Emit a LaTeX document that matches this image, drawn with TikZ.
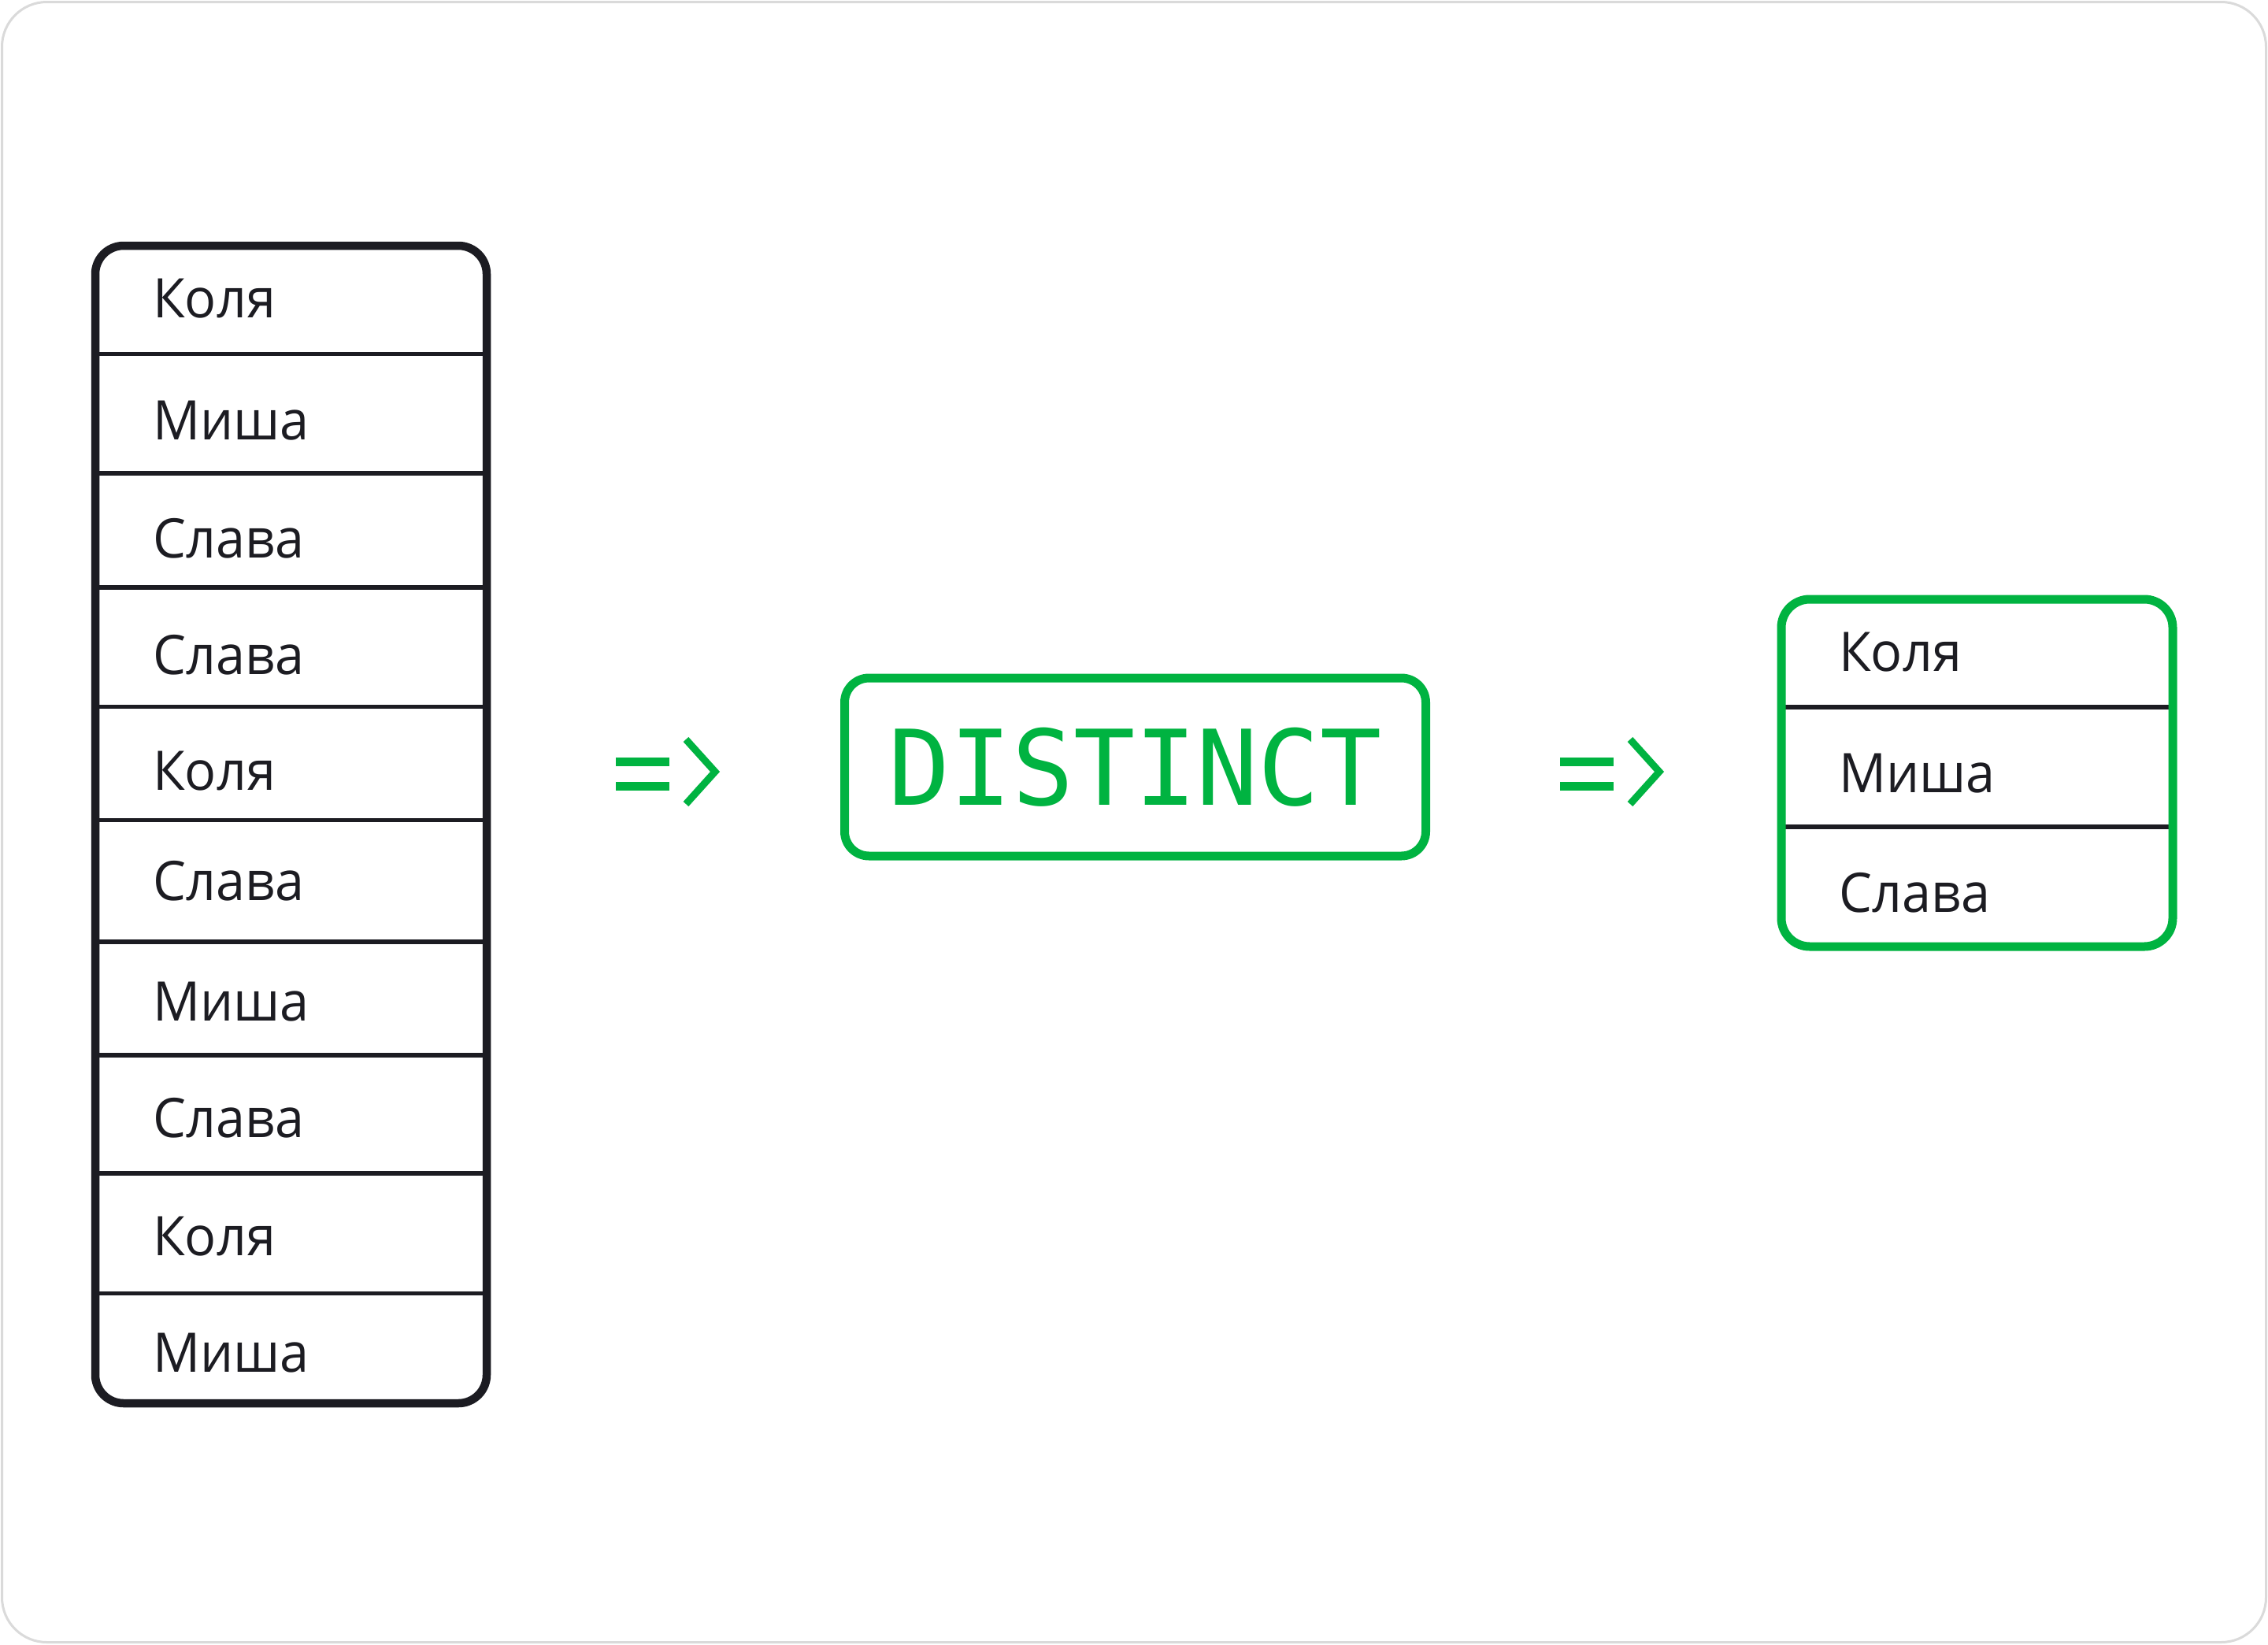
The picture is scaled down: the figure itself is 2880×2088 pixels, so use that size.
\documentclass[tikz,border=0pt]{standalone}
\usepackage{fontspec}
\newfontfamily\namefont[FakeStretch=0.96]{Open Sans}
\newfontfamily\codefont[FakeStretch=0.98]{DejaVu Sans Mono}
\definecolor{ink}{HTML}{1C1C22}
\definecolor{grn}{HTML}{00B341}
\definecolor{edgegray}{HTML}{DADADA}
\begin{document}
\begin{tikzpicture}[x=1pt,y=-1pt,
  namelabel/.style={anchor=base west, inner sep=0pt, text=ink, font=\namefont\fontsize{69.3}{80}\selectfont},
  rowsep/.style={draw=ink, line width=5.5pt},
  darkframe/.style={draw=ink, line width=10.5pt, rounded corners=36pt},
  greenframe/.style={draw=grn, line width=11pt, rounded corners=36pt},
  codebox/.style={draw=grn, line width=11pt, rounded corners=31pt, text=grn, inner sep=0pt,
    minimum width=738pt, minimum height=226pt, font=\codefont\fontsize{132.6}{150}\selectfont},
  bar/.style={fill=grn, draw=none},
  chevron/.style={draw=grn, line width=9pt, miter limit=10}
]
\useasboundingbox (0,0) rectangle (2880,2088);
\fill[white] (0,0) rectangle (2880,2088);
\draw[edgegray, line width=3pt, rounded corners=57pt] (2.5,2.5) rectangle (2877.5,2085.5);

% left table
\coordinate (ltl) at (121,312);
\coordinate (lbr) at (618,1782);
\foreach \yy in {449.3,601,746,897.7,1041.7,1196,1340,1490,1642.3}{
  \draw[rowsep] (121,\yy) -- (618,\yy);
}
\draw[darkframe] (ltl) rectangle (lbr);
\node[namelabel] (l1) at (194,403.3) {Коля};
\node[namelabel] (l2) at (194,558.3) {Миша};
\node[namelabel] (l3) at (194,708.3) {Слава};
\node[namelabel] (l4) at (194,856.7) {Слава};
\node[namelabel] (l5) at (194,1003.3) {Коля};
\node[namelabel] (l6) at (194,1143.3) {Слава};
\node[namelabel] (l7) at (194,1296) {Миша};
\node[namelabel] (l8) at (194,1444) {Слава};
\node[namelabel] (l9) at (194,1594.3) {Коля};
\node[namelabel] (l10) at (194,1742.7) {Миша};

% first arrow
\fill[bar] (782,962) rectangle (850,973);
\fill[bar] (782,993) rectangle (850,1004);
\draw[chevron] (871,939) -- (908,980) -- (871,1021);

% DISTINCT box
\node[codebox] (distinct) at (1441.5,974) {DISTINCT};

% second arrow
\fill[bar] (1981,962) rectangle (2049,973);
\fill[bar] (1981,993) rectangle (2049,1004);
\draw[chevron] (2070,939) -- (2107,980) -- (2070,1021);

% right table
\coordinate (rtl) at (2262,761);
\coordinate (rbr) at (2759,1202);
\foreach \yy in {898,1050}{
  \draw[rowsep] (2262,\yy) -- (2759,\yy);
}
\draw[greenframe] (rtl) rectangle (rbr);
\node[namelabel] (r1) at (2335,852.7) {Коля};
\node[namelabel] (r2) at (2335,1006.7) {Миша};
\node[namelabel] (r3) at (2335,1158.3) {Слава};
\end{tikzpicture}
\end{document}
